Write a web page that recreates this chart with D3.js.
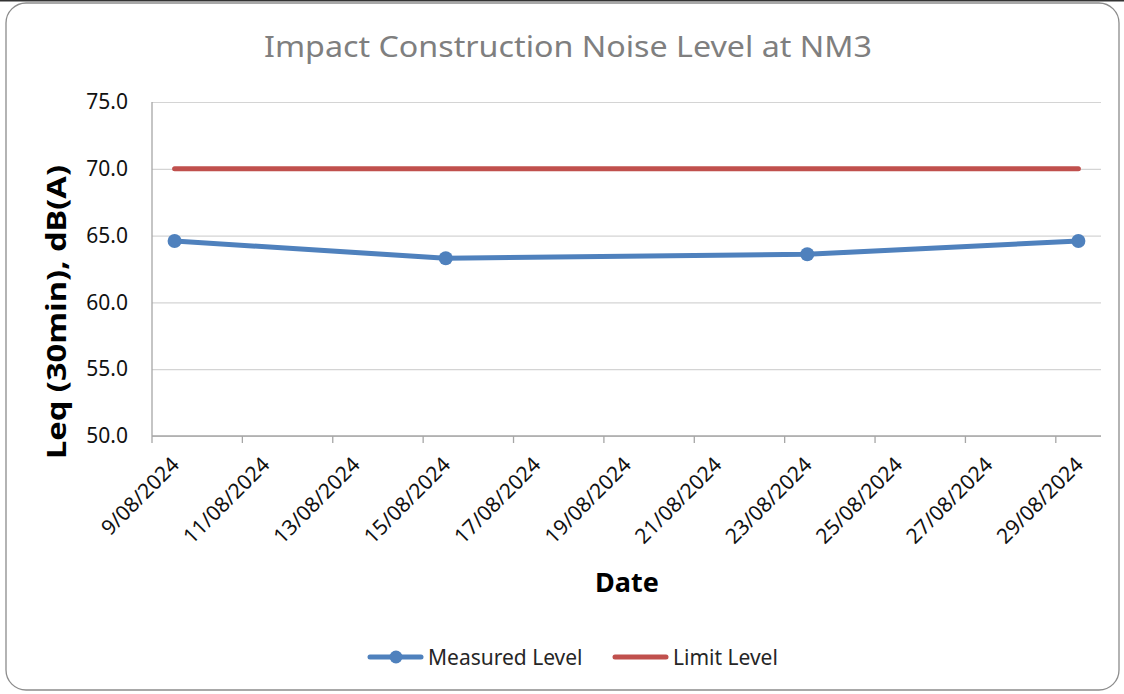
<!DOCTYPE html>
<html>
<head>
<meta charset="utf-8">
<script src="https://cdn.jsdelivr.net/npm/d3@7"></script>
<style>
  body { margin: 0; background: #fff; }
  svg { display: block; font-family: "Noto Sans", "Open Sans", sans-serif; }
</style>
</head>
<body>
<svg width="1124" height="694"></svg>
<script>
// data
var tickLabels = ['9/08/2024', '11/08/2024', '13/08/2024', '15/08/2024', '17/08/2024', '19/08/2024',
  '21/08/2024', '23/08/2024', '25/08/2024', '27/08/2024', '29/08/2024'];
var measureDates = ['9/08/2024', '15/08/2024', '23/08/2024', '29/08/2024'];
var measuredLevel = [64.6, 63.3, 63.6, 64.6];
var limitLevel = [70, 70, 70, 70];
var yTicks = [50, 55, 60, 65, 70, 75];

var blue = '#4f81bd';
var red = '#c0504d';

var parse = d3.timeParse('%d/%m/%Y');
var svg = d3.select('svg');

var margin = { top: 102, right: 23, bottom: 258, left: 152 };
var width = 1124 - margin.left - margin.right;
var height = 694 - margin.top - margin.bottom;

// outer frame
svg.append('rect')
  .attr('x', 6).attr('y', 3)
  .attr('width', 1113).attr('height', 687)
  .attr('rx', 20)
  .attr('fill', '#fff')
  .attr('stroke', '#8c8c8c')
  .attr('stroke-width', 1.3);
svg.append('line')
  .attr('x1', 0).attr('x2', 1124).attr('y1', 0.5).attr('y2', 0.5)
  .attr('stroke', '#333').attr('stroke-width', 2);

var g = svg.append('g')
  .attr('transform', 'translate(' + margin.left + ',' + margin.top + ')');

var first = parse(tickLabels[0]);
var last = parse(tickLabels[tickLabels.length - 1]);
var x = d3.scaleTime()
  .domain([d3.timeHour.offset(first, -12), d3.timeHour.offset(last, 12)])
  .range([0, width]);
var y = d3.scaleLinear()
  .domain([50, 75])
  .range([height, 0]);

// gridlines
g.append('g')
  .attr('class', 'grid')
  .call(d3.axisLeft(y).tickValues(yTicks).tickSize(-width).tickFormat(''))
  .call(function(s) {
    s.select('.domain').remove();
    s.selectAll('line').attr('stroke', '#d4d4d4').attr('stroke-width', 1.2);
  });

// y axis labels
g.append('g')
  .call(d3.axisLeft(y).tickValues(yTicks).tickSize(0).tickPadding(24).tickFormat(d3.format('.1f')))
  .call(function(s) {
    s.select('.domain').remove();
    s.selectAll('text')
      .attr('font-size', 21)
      .attr('fill', '#111')
      .attr('font-family', '"Noto Sans", sans-serif');
  });

// axis lines
g.append('line')
  .attr('x1', 0).attr('x2', 0).attr('y1', 0).attr('y2', height)
  .attr('stroke', '#a6a6a6').attr('stroke-width', 1.3);
g.append('line')
  .attr('x1', 0).attr('x2', width).attr('y1', height).attr('y2', height)
  .attr('stroke', '#a6a6a6').attr('stroke-width', 1.3);

// x tick marks on day boundaries
var tickDates = tickLabels.map(parse);
g.selectAll('.xtick')
  .data(tickDates)
  .enter().append('line')
  .attr('class', 'xtick')
  .attr('x1', function(d) { return x(d3.timeHour.offset(d, -12)); })
  .attr('x2', function(d) { return x(d3.timeHour.offset(d, -12)); })
  .attr('y1', height)
  .attr('y2', height + 7)
  .attr('stroke', '#a6a6a6')
  .attr('stroke-width', 1.3);

// x tick labels
g.selectAll('.xlabel')
  .data(tickLabels)
  .enter().append('text')
  .attr('class', 'xlabel')
  .attr('text-anchor', 'end')
  .attr('font-size', 21)
  .attr('fill', '#111')
  .attr('transform', function(d) {
    return 'translate(' + (x(parse(d)) + 6) + ',' + (height + 30) + ') rotate(-45)';
  })
  .text(function(d) { return d; });

// series
var limitData = measureDates.map(function(d, i) { return { date: parse(d), value: limitLevel[i] }; });
var measuredData = measureDates.map(function(d, i) { return { date: parse(d), value: measuredLevel[i] }; });

var line = d3.line()
  .x(function(d) { return x(d.date); })
  .y(function(d) { return y(d.value); });

g.append('path')
  .datum(limitData)
  .attr('d', line)
  .attr('fill', 'none')
  .attr('stroke', red)
  .attr('stroke-width', 5)
  .attr('stroke-linecap', 'round');

g.append('path')
  .datum(measuredData)
  .attr('d', line)
  .attr('fill', 'none')
  .attr('stroke', blue)
  .attr('stroke-width', 5)
  .attr('stroke-linejoin', 'round')
  .attr('stroke-linecap', 'round');

g.selectAll('.dot')
  .data(measuredData)
  .enter().append('circle')
  .attr('class', 'dot')
  .attr('cx', function(d) { return x(d.date); })
  .attr('cy', function(d) { return y(d.value); })
  .attr('r', 7)
  .attr('fill', blue);

// titles
svg.append('text')
  .attr('x', 568).attr('y', 57)
  .attr('text-anchor', 'middle')
  .attr('font-size', 29)
  .attr('fill', '#7f7f7f')
  .attr('textLength', 608)
  .attr('lengthAdjust', 'spacingAndGlyphs')
  .text('Impact Construction Noise Level at NM3');

svg.append('text')
  .attr('x', 627).attr('y', 592)
  .attr('text-anchor', 'middle')
  .attr('font-size', 27)
  .attr('font-weight', 'bold')
  .attr('fill', '#000')
  .text('Date');

svg.append('text')
  .attr('transform', 'translate(66,312) rotate(-90)')
  .attr('text-anchor', 'middle')
  .attr('font-size', 27)
  .attr('font-weight', 'bold')
  .attr('fill', '#000')
  .attr('textLength', 294)
  .attr('lengthAdjust', 'spacingAndGlyphs')
  .text('Leq (30min), dB(A)');

// legend
var legend = [
  { name: 'Measured Level', color: blue, x: 368, marker: true },
  { name: 'Limit Level', color: red, x: 613, marker: false }
];
var lg = svg.append('g').attr('transform', 'translate(0,657)');
legend.forEach(function(item) {
  lg.append('line')
    .attr('x1', item.x + 2).attr('x2', item.x + 53).attr('y1', 0).attr('y2', 0)
    .attr('stroke', item.color).attr('stroke-width', 5).attr('stroke-linecap', 'round');
  if (item.marker) {
    lg.append('circle').attr('cx', item.x + 28).attr('cy', 0).attr('r', 6.5).attr('fill', item.color);
  }
  lg.append('text')
    .attr('x', item.x + 60).attr('y', 7.5)
    .attr('font-size', 21)
    .attr('fill', '#262626')
    .text(item.name);
});
</script>
</body>
</html>
